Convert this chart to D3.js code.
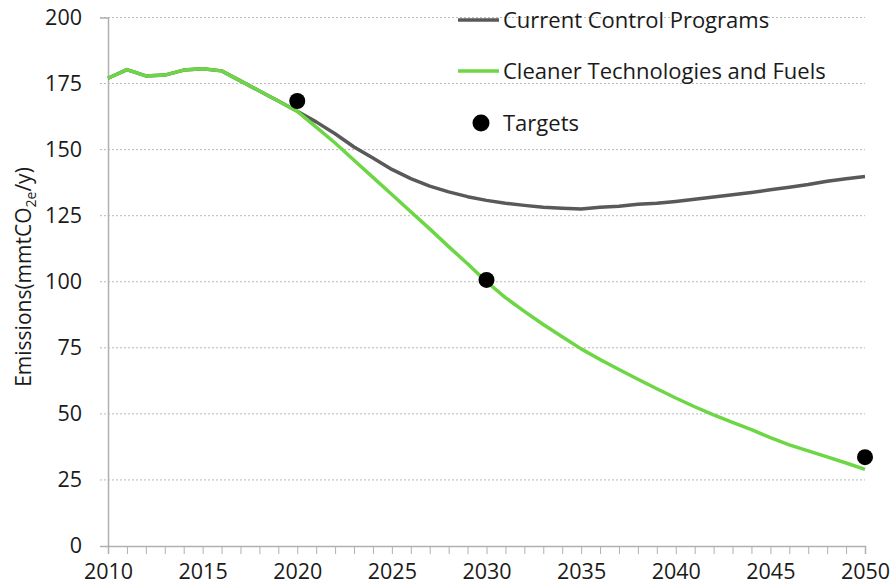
<!DOCTYPE html>
<html>
<head>
<meta charset="utf-8">
<script src="https://cdn.jsdelivr.net/npm/d3@7"></script>
<style>
  body { margin: 0; background: #fff; }
  svg text { font-family: "Open Sans", sans-serif; fill: #1a1a1a; }
</style>
</head>
<body>
<div id="chart"></div>
<script>
var years = d3.range(2010, 2051);

var currentControl = [177, 180.3, 177.9, 178.2, 180.1, 180.6, 179.8, 176, 172.2, 168.4,
    164.5, 160.5, 156, 151, 146.8, 142.5, 139, 136.2, 134, 132.2,
    130.8, 129.7, 128.9, 128.2, 127.8, 127.5, 128.2, 128.6, 129.3, 129.7,
    130.4, 131.2, 132.1, 132.9, 133.8, 134.8, 135.8, 136.8, 138, 139, 139.8];

var cleanerTech = [177, 180.3, 177.9, 178.2, 180.1, 180.6, 179.8, 176, 172.2, 168.4,
    164.5, 158.5, 152.5, 146, 139.5, 133, 126.5, 120, 113.3, 106.8,
    100, 94, 88.8, 83.8, 79.2, 74.6, 70.6, 66.8, 63.1, 59.5,
    56, 52.7, 49.6, 46.8, 44, 41, 38.3, 36, 33.7, 31.4, 29];

var targetYears = [2020, 2030, 2050];
var targetValues = [168.4, 100.7, 33.6];

var yTicks = [0, 25, 50, 75, 100, 125, 150, 175, 200];
var xLabels = [2010, 2015, 2020, 2025, 2030, 2035, 2040, 2045, 2050];

var seriesNames = ["Current Control Programs", "Cleaner Technologies and Fuels", "Targets"];

var width = 893, height = 586;
var margin = {top: 17.5, right: 28, bottom: 40, left: 108};

var svg = d3.select("#chart").append("svg")
    .attr("width", width)
    .attr("height", height);

var x = d3.scaleLinear().domain([2010, 2050]).range([margin.left, width - margin.right]);
var y = d3.scaleLinear().domain([0, 200]).range([height - margin.bottom, margin.top]);

// gridlines
svg.append("g")
    .selectAll("line")
    .data(yTicks.filter(function (d) { return d > 0; }))
    .enter()
    .append("line")
    .attr("x1", margin.left - 8)
    .attr("x2", width - margin.right)
    .attr("y1", function (d) { return y(d); })
    .attr("y2", function (d) { return y(d); })
    .style("stroke", "#b8b8b8")
    .style("stroke-width", 1)
    .style("stroke-dasharray", "2,2");

// y axis
var yAxis = svg.append("g")
    .attr("transform", "translate(" + margin.left + ",0)")
    .call(d3.axisLeft(y).tickValues(yTicks).tickSize(8).tickPadding(18));
yAxis.select(".domain").style("stroke", "#b0b0b0").style("stroke-width", 1.5);
yAxis.selectAll(".tick line").style("stroke", "#b0b0b0")
    .style("opacity", function (d) { return d == 0 ? 1 : 0; });
yAxis.selectAll("text").style("font-size", "21.5px").style("font-family", "Open Sans").style("fill", "#1a1a1a");

// x axis with yearly ticks
var xAxis = svg.append("g")
    .attr("transform", "translate(0," + (height - margin.bottom) + ")")
    .call(d3.axisBottom(x).tickValues(years).tickSize(8).tickPadding(10)
        .tickFormat(function (d) { return xLabels.indexOf(d) >= 0 ? d : ""; }));
xAxis.select(".domain").style("stroke", "#b0b0b0").style("stroke-width", 1.5);
xAxis.selectAll(".tick line").style("stroke", "#b0b0b0");
xAxis.selectAll("text").style("font-size", "21.5px").style("font-family", "Open Sans").style("fill", "#1a1a1a");

// y axis title
var title = svg.append("text")
    .attr("transform", "translate(31," + 277 + ") rotate(-90)")
    .attr("text-anchor", "middle")
    .style("font-size", "21px");
title.append("tspan").text("Emissions(mmtCO");
title.append("tspan").attr("dy", 5).style("font-size", "14px").text("2e");
title.append("tspan").attr("dy", -5).text("/y)");

var line = d3.line()
    .x(function (d, i) { return x(years[i]); })
    .y(function (d) { return y(d); });

svg.append("path")
    .datum(currentControl)
    .attr("d", line)
    .style("fill", "none")
    .style("stroke", "#595959")
    .style("stroke-width", 3.5)
    .style("stroke-linejoin", "round");

svg.append("path")
    .datum(cleanerTech)
    .attr("d", line)
    .style("fill", "none")
    .style("stroke", "#6cd645")
    .style("stroke-width", 3.5)
    .style("stroke-linejoin", "round");

svg.append("g")
    .selectAll("circle")
    .data(targetValues)
    .enter()
    .append("circle")
    .attr("cx", function (d, i) { return x(targetYears[i]); })
    .attr("cy", function (d) { return y(d); })
    .attr("r", 8)
    .style("fill", "#000");

// legend
var legend = svg.append("g");
var legendY = [20, 71, 123];
var legendColors = ["#595959", "#6cd645", "#000"];

seriesNames.forEach(function (name, i) {
    if (i < 2) {
        legend.append("line")
            .attr("x1", 458).attr("x2", 499)
            .attr("y1", legendY[i]).attr("y2", legendY[i])
            .style("stroke", legendColors[i])
            .style("stroke-width", 3.5);
    } else {
        legend.append("circle")
            .attr("cx", 481).attr("cy", legendY[i])
            .attr("r", 8.5)
            .style("fill", "#000");
    }
    legend.append("text")
        .attr("x", 503)
        .attr("y", legendY[i])
        .attr("dy", "0.35em")
        .style("font-size", "22px")
        .text(name);
});
</script>
</body>
</html>
